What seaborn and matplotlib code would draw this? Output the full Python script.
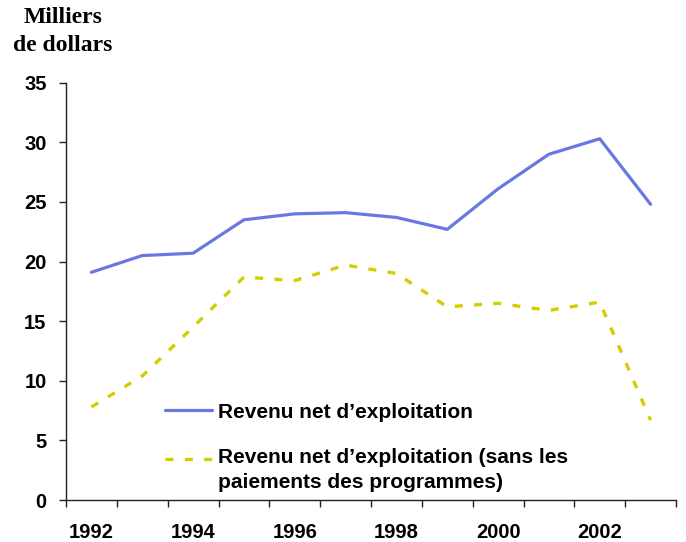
import matplotlib
matplotlib.use("Agg")
import matplotlib.pyplot as plt
import seaborn as sns
import pandas as pd

years = [1992, 1993, 1994, 1995, 1996, 1997, 1998, 1999, 2000, 2001, 2002, 2003]
revenu_net = [19.1, 20.5, 20.7, 23.5, 24.0, 24.1, 23.7, 22.7, 26.1, 29.0, 30.3, 24.8]
revenu_sans_paiements = [7.8, 10.4, 14.5, 18.7, 18.4, 19.7, 19.0, 16.2, 16.5, 15.9, 16.6, 6.7]
tick_years = [1992, 1994, 1996, 1998, 2000, 2002]
y_ticks = [0, 5, 10, 15, 20, 25, 30, 35]

label_net = "Revenu net d’exploitation"
label_sans = "Revenu net d’exploitation (sans les\npaiements des programmes)"
y_title = "Milliers\nde dollars"

sns.set_theme(style="white")
plt.rcParams["font.family"] = ["Liberation Sans", "DejaVu Sans"]
plt.rcParams["text.color"] = "black"
plt.rcParams["xtick.color"] = "black"
plt.rcParams["ytick.color"] = "black"

df = pd.DataFrame({"annee": years, "net": revenu_net, "sans": revenu_sans_paiements})

fig = plt.figure(figsize=(6.86, 5.42), dpi=100)
W, H = 686, 542
ax = fig.add_axes([66 / W, 42 / H, 610 / W, 417.3 / H])

sns.lineplot(data=df, x="annee", y="net", ax=ax, color="#6878E0", lw=2.3,
             label=label_net)
sns.lineplot(data=df, x="annee", y="sans", ax=ax, color="#D2CE00", lw=2.4,
             label=label_sans)
ax.lines[1].set_dashes((2.4, 3.4))
ax.lines[1].set_dash_capstyle("butt")

ax.set_xlim(1991.5, 2003.5)
ax.set_ylim(0, 35)
ax.set_xlabel("")
ax.set_ylabel("")

for s in ["top", "right"]:
    ax.spines[s].set_visible(False)
for s in ["left", "bottom"]:
    ax.spines[s].set_color("#222222")
    ax.spines[s].set_linewidth(1.0)

ax.set_yticks(y_ticks)
ax.set_yticklabels([str(v) for v in y_ticks], fontsize=14.5, fontweight="bold")
ax.tick_params(axis="y", direction="out", length=5, width=1, color="#222222",
               labelcolor="black", pad=9, left=True)

ax.set_xticks(tick_years)
ax.set_xticklabels([str(v) for v in tick_years], fontsize=14.5, fontweight="bold")
ax.tick_params(axis="x", which="major", length=0, pad=16.5, labelcolor="black")
ax.set_xticks([y - 0.5 for y in years] + [years[-1] + 0.5], minor=True)
ax.tick_params(axis="x", which="minor", direction="out", length=5, width=1,
               color="#222222", bottom=True)

leg_size = 15
leg = ax.legend(loc="upper left", bbox_to_anchor=(165 / W, (542 - 402.5) / H),
                bbox_transform=fig.transFigure, frameon=False, borderpad=0,
                borderaxespad=0, handlelength=2.25, handletextpad=0.28,
                labelspacing=1.25, prop={"size": leg_size, "weight": "bold"},
                labelcolor="black")
# two-line label: wider line gap, and keep its key level with the first line
line_gap = 1.4
leg.get_texts()[1].set_linespacing(line_gap)
fig.canvas.draw()
t = leg.get_texts()[1]
bb = t.get_window_extent()
shift_pts = (bb.height / 4) * 72 / fig.dpi
h2 = leg.legend_handles[1]
h2.set_ydata([y + shift_pts for y in h2.get_ydata()])

fig.text(63 / W, 1 - 7 / H, y_title, ha="center", va="top",
         fontsize=17, fontweight="bold", family=["Liberation Serif", "DejaVu Serif"],
         linespacing=1.42)

fig.savefig("out.png", dpi=100)
